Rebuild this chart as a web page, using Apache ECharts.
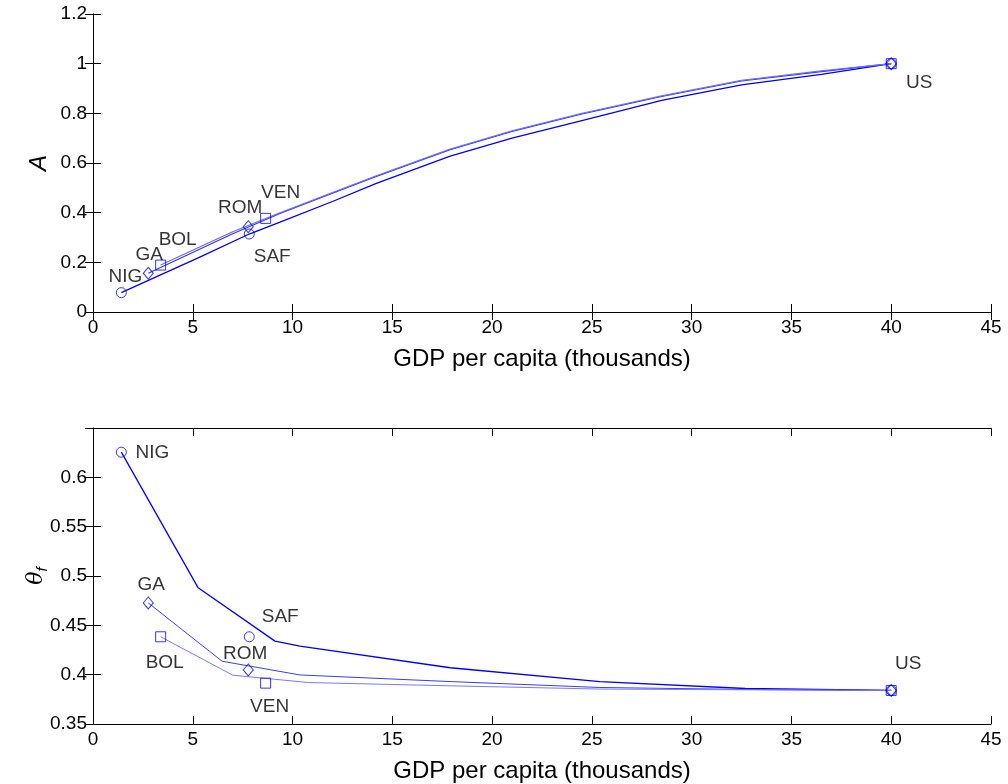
<!DOCTYPE html>
<html>
<head>
<meta charset="utf-8">
<script src="https://cdn.jsdelivr.net/npm/echarts@6/dist/echarts.min.js"></script>
<style>
html,body{margin:0;padding:0;background:#fff;}
#chart{width:1008px;height:784px;}
</style>
</head>
<body>
<div id="chart"></div>
<script>
// ---------- DATA ----------
const xTicks = [0, 5, 10, 15, 20, 25, 30, 35, 40, 45];
const yTicksA = [0, 0.2, 0.4, 0.6, 0.8, 1, 1.2];
const yTicksTheta = [0.35, 0.4, 0.45, 0.5, 0.55, 0.6];

// markers grouped by symbol
const circleCountries  = ['NIG', 'SAF', 'US'];
const circleGDP        = [1.42, 7.83, 40];
const circleA          = [0.078, 0.314, 1.0];
const circleTheta      = [0.6255, 0.4384, 0.384];

const diamondCountries = ['GA', 'ROM', 'US'];
const diamondGDP       = [2.77, 7.78, 40];
const diamondA         = [0.156, 0.3435, 1.0];
const diamondTheta     = [0.4727, 0.4048, 0.384];

const squareCountries  = ['BOL', 'VEN', 'US'];
const squareGDP        = [3.39, 8.65, 40];
const squareA          = [0.189, 0.377, 1.0];
const squareTheta      = [0.4384, 0.3914, 0.384];

// paths (GDP, value)
const pathNIG_A = [[1.42,0.078],[5.27,0.218],[7.83,0.314],[9.37,0.362],[12.0,0.445],[14.2,0.518],[17.9,0.628],[21.0,0.700],[24.4,0.769],[28.5,0.852],[32.5,0.915],[36.5,0.957],[40,1.0]];
const pathGA_A  = [[2.77,0.156],[7.0,0.315],[9.37,0.397],[12.0,0.478],[14.2,0.546],[17.9,0.653],[21.0,0.727],[24.4,0.795],[28.5,0.868],[32.5,0.930],[36.5,0.968],[40,1.0]];
const pathBOL_A = [[3.39,0.189],[7.0,0.323],[9.37,0.400],[12.0,0.481],[14.2,0.549],[17.9,0.656],[21.0,0.730],[24.4,0.798],[28.5,0.871],[32.5,0.933],[36.5,0.971],[40,1.0]];

const pathNIG_T = [[1.42,0.6255],[5.27,0.488],[9.12,0.434],[10.37,0.429],[17.9,0.407],[25.4,0.393],[32.7,0.386],[40,0.384]];
const pathGA_T  = [[2.77,0.4727],[6.47,0.4136],[10.37,0.3997],[17.9,0.393],[25.4,0.387],[32.7,0.385],[40,0.384]];
const pathBOL_T = [[3.39,0.4384],[7.0,0.3995],[10.8,0.392],[17.9,0.3887],[25.4,0.3854],[40,0.384]];

// ---------- STYLE ----------
const FONT = 'Liberation Sans';
const BLUE = '#0000ff';
const labelOffsetsTop = {NIG:[4,-16], GA:[1,-18], BOL:[17,-25], ROM:[-8,-19], SAF:[23,23], VEN:[15,-26], US:[28,19]};
const labelOffsetsBot = {NIG:[31,1], GA:[3,-18], BOL:[4,26], ROM:[-3,-16], SAF:[31,-20], VEN:[4,24], US:[17,-27]};

function markerData(names, xs, ys, offsets, labelUS) {
  return names.map((n, i) => {
    const showLab = n !== 'US' || labelUS;
    return {
      value: [xs[i], ys[i]],
      label: {
        show: showLab, formatter: n, position: 'inside', offset: offsets[n],
        color: '#000', textBorderWidth: 0, fontFamily: FONT, fontSize: 19
      }
    };
  });
}

function markerSeries(gi, symbol, size, names, xs, ys, offsets, labelUS) {
  return {
    type: 'scatter', xAxisIndex: gi * 2, yAxisIndex: gi * 2,
    symbol: symbol, symbolSize: size, z: 5,
    itemStyle: {color: 'rgba(0,0,0,0)', borderColor: BLUE, borderWidth: 1},
    emphasis: {disabled: true},
    data: markerData(names, xs, ys, offsets, labelUS)
  };
}
function lineSeries(gi, data, color, width) {
  return {
    type: 'line', xAxisIndex: gi * 2, yAxisIndex: gi * 2,
    data: data, showSymbol: false, symbol: 'none', z: 3,
    lineStyle: {color: color, width: width}, silent: true
  };
}

const axisLineStyle = {lineStyle: {color: '#000', width: 1}};
const tickStyle = {inside: true, length: 8, lineStyle: {color: '#000', width: 1}};
const labelStyle = {color: '#000', fontFamily: FONT, fontSize: 19};

function xAxes(gi) {
  return [
    {gridIndex: gi, type: 'value', min: xTicks[0], max: xTicks[xTicks.length-1], interval: 5, position: 'bottom',
     axisLine: axisLineStyle, axisTick: tickStyle, splitLine: {show: false},
     axisLabel: Object.assign({margin: 6}, labelStyle),
     name: 'GDP per capita (thousands)', nameLocation: 'middle', nameGap: 35,
     nameTextStyle: {color: '#000', fontFamily: FONT, fontSize: 24}},
    {gridIndex: gi, type: 'value', min: xTicks[0], max: xTicks[xTicks.length-1], interval: 5, position: 'top',
     axisLine: axisLineStyle, axisTick: tickStyle, splitLine: {show: false}, axisLabel: {show: false}}
  ];
}
function yAxes(gi, ticks, interval, max, name, nameRich, gap) {
  return [
    {gridIndex: gi, type: 'value', min: ticks[0], max: max, interval: interval, position: 'left',
     axisLine: axisLineStyle, axisTick: tickStyle, splitLine: {show: false},
     axisLabel: Object.assign({margin: 6, showMaxLabel: gi === 0, formatter: v => String(+v.toFixed(2))}, labelStyle),
     name: name, nameLocation: 'middle', nameGap: gap, nameRotate: 90, nameMoveOverlap: false,
     nameTextStyle: Object.assign({color: '#000', fontFamily: FONT, fontSize: 24, fontStyle: 'italic'}, nameRich ? {rich: nameRich} : {})},
    {gridIndex: gi, type: 'value', min: ticks[0], max: max, interval: interval, position: 'right',
     axisLine: axisLineStyle, axisTick: tickStyle, splitLine: {show: false}, axisLabel: {show: false}}
  ];
}

const thetaRich = {
  t: {fontFamily: 'DejaVu Serif', fontStyle: 'italic', fontSize: 22, color: '#000'},
  s: {fontFamily: FONT, fontStyle: 'italic', fontSize: 15, color: '#000', verticalAlign: 'bottom', padding: [12, 0, 0, 0]}
};

const option = {
  animation: false,
  backgroundColor: '#fff',
  grid: [
    {left: 93, top: 14, width: 898, height: 298},
    {left: 93, top: 428, width: 898, height: 297}
  ],
  xAxis: [...xAxes(0), ...xAxes(1)],
  yAxis: [...yAxes(0, yTicksA, 0.2, 1.2, 'A', null, 42), ...yAxes(1, yTicksTheta, 0.05, 0.65, '{t|θ}{s|f}', thetaRich, 43)],
  series: [
    lineSeries(0, pathNIG_A, BLUE, 1.3),
    lineSeries(0, pathGA_A, '#3030ff', 1.1),
    lineSeries(0, pathBOL_A, '#6a6aff', 1.1),
    markerSeries(0, 'circle', 10, circleCountries, circleGDP, circleA, labelOffsetsTop, true),
    markerSeries(0, 'diamond', [10, 12], diamondCountries, diamondGDP, diamondA, labelOffsetsTop, false),
    markerSeries(0, 'rect', 10, squareCountries, squareGDP, squareA, labelOffsetsTop, false),

    lineSeries(1, pathNIG_T, BLUE, 1.3),
    lineSeries(1, pathGA_T, '#3a3aff', 1.0),
    lineSeries(1, pathBOL_T, '#7a7aff', 1.0),
    markerSeries(1, 'circle', 10, circleCountries, circleGDP, circleTheta, labelOffsetsBot, true),
    markerSeries(1, 'diamond', [10, 12], diamondCountries, diamondGDP, diamondTheta, labelOffsetsBot, false),
    markerSeries(1, 'rect', 10, squareCountries, squareGDP, squareTheta, labelOffsetsBot, false)
  ]
};
const chart = echarts.init(document.getElementById('chart'), null, {renderer: 'canvas'});
chart.setOption(option);
</script>
</body>
</html>
